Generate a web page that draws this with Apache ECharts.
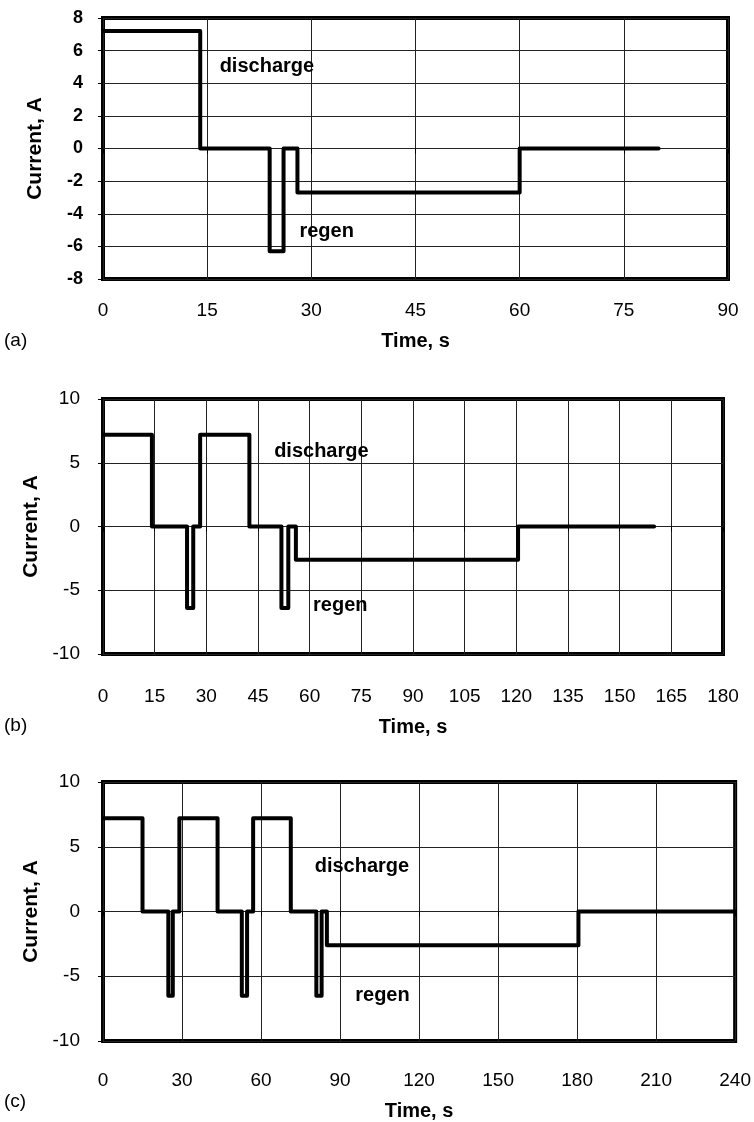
<!DOCTYPE html>
<html>
<head>
<meta charset="utf-8">
<script src="https://cdn.jsdelivr.net/npm/echarts@6/dist/echarts.min.js"></script>
<style>
html,body{margin:0;padding:0;background:#fff;}
#c{width:754px;height:1122px;}
</style>
</head>
<body>
<div id="c"></div>
<script>
// ---- data (time s, current A) ----
const timeA = [0, 14, 14, 24, 24, 26, 26, 28, 28, 60, 60, 80];
const currA = [7.2, 7.2, 0, 0, -6.3, -6.3, 0, 0, -2.7, -2.7, 0, 0];

const timeB = [0, 14.2, 14.2, 24.4, 24.4, 26.2, 26.2, 28.2, 28.2, 42.5, 42.5, 51.8, 51.8, 53.8, 53.8, 56, 56, 120.5, 120.5, 160];
const currB = [7.2, 7.2, 0, 0, -6.4, -6.4, 0, 0, 7.2, 7.2, 0, 0, -6.4, -6.4, 0, 0, -2.6, -2.6, 0, 0];

const timeC = [0, 15, 15, 24.8, 24.8, 26.5, 26.5, 29, 29, 43.5, 43.5, 52.7, 52.7, 54.7, 54.7, 57, 57, 71.3, 71.3, 81, 81, 83, 83, 85, 85, 180.5, 180.5, 240];
const currC = [7.2, 7.2, 0, 0, -6.5, -6.5, 0, 0, 7.2, 7.2, 0, 0, -6.5, -6.5, 0, 0, 7.2, 7.2, 0, 0, -6.5, -6.5, 0, 0, -2.6, -2.6, 0, 0];

const xTicksA = {min: 0, max: 90, interval: 15};
const xTicksB = {min: 0, max: 180, interval: 15};
const xTicksC = {min: 0, max: 240, interval: 30};
const yTicksA = {min: -8, max: 8, interval: 2};
const yTicksB = {min: -10, max: 10, interval: 5};
const yTicksC = {min: -10, max: 10, interval: 5};

const panelLetters = ['(a)', '(b)', '(c)'];
const xTitle = 'Time, s';
const yTitle = 'Current, A';
const notes = [
  [{text: 'discharge', at: [23.6, 5.0]}, {text: 'regen', at: [32.2, -5.1]}],
  [{text: 'discharge', at: [63.4, 5.9]}, {text: 'regen', at: [68.9, -6.2]}],
  [{text: 'discharge', at: [98.3, 3.5]}, {text: 'regen', at: [106.1, -6.5]}]
];

const FONT = '"Liberation Sans", Arial, Helvetica, sans-serif';
const zip = (t, c) => t.map((v, i) => [v, c[i]]);

const grids = [
  {left: 103, top: 18, right: 26, height: 261},
  {left: 103, top: 399, right: 31, height: 255},
  {left: 103, top: 782, right: 13, height: 261}
].map(g => Object.assign(g, {show: true, borderColor: '#000', borderWidth: 4, containLabel: false}));

const xt = [xTicksA, xTicksB, xTicksC];
const yt = [yTicksA, yTicksB, yTicksC];
const xMargins = [22, 33, 30];
const yPad = [[0,0,0,0],[0,0,14,0],[0,0,7,0]];

const xAxes = xt.map((t, i) => ({
  type: 'value', gridIndex: i, min: t.min, max: t.max, interval: t.interval,
  name: xTitle, nameLocation: 'middle', nameGap: [52, 63, 60][i],
  nameTextStyle: {fontFamily: FONT, fontWeight: 'bold', fontSize: 20, color: '#000'},
  axisLine: {show: false},
  axisTick: {show: true, inside: false, length: 5, lineStyle: {color: '#000', width: 1}},
  axisLabel: {fontFamily: FONT, fontSize: 19, color: '#000', margin: xMargins[i]},
  splitLine: {show: true, lineStyle: {color: '#222', width: 1}}
}));

const yAxes = yt.map((t, i) => ({
  type: 'value', gridIndex: i, min: t.min, max: t.max, interval: t.interval,
  name: yTitle, nameLocation: 'middle', nameGap: 57, nameRotate: 90,
  nameTextStyle: {fontFamily: FONT, fontWeight: 'bold', fontSize: 21, color: '#000'},
  axisLine: {show: false},
  axisTick: {show: true, inside: false, length: 5, lineStyle: {color: '#000', width: 1}},
  axisLabel: {fontFamily: FONT, fontSize: i === 0 ? 18 : 19, fontWeight: i === 0 ? 'bold' : 'normal',
    color: '#000', margin: i === 0 ? 20 : 23, padding: yPad[i]},
  splitLine: {show: true, lineStyle: {color: '#222', width: 1}}
}));

const dataSets = [zip(timeA, currA), zip(timeB, currB), zip(timeC, currC)];
const series = dataSets.map((d, i) => ({
  type: 'line', xAxisIndex: i, yAxisIndex: i, data: d,
  showSymbol: false, symbol: 'none', animation: false, silent: true,
  lineStyle: {color: '#000', width: 4, cap: 'round', join: 'round'},
  markPoint: {
    silent: true, animation: false,
    symbol: 'circle', symbolSize: 0,
    data: notes[i].map(n => ({
      coord: n.at, value: n.text,
      label: {show: true, position: 'inside', formatter: n.text, fontFamily: FONT,
        fontWeight: 'bold', fontSize: 20, color: '#000'}
    }))
  }
}));

const letterTops = [342, 727, 1103];
const graphic = panelLetters.map((s, i) => ({
  type: 'text', left: 4, top: letterTops[i] - 11,
  style: {text: s, font: '19px ' + FONT, fill: '#000'}
}));

const chart = echarts.init(document.getElementById('c'), null, {renderer: 'canvas'});
chart.setOption({
  backgroundColor: '#fff',
  animation: false,
  grid: grids,
  xAxis: xAxes,
  yAxis: yAxes,
  series: series,
  graphic: graphic
});
</script>
</body>
</html>
